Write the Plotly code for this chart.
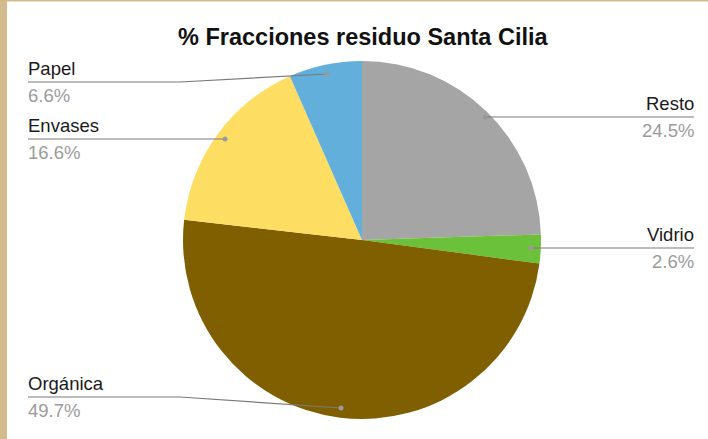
import plotly.graph_objects as go

W, H = 708, 439

labels = ["Resto", "Vidrio", "Orgánica", "Envases", "Papel"]
values = [24.5, 2.6, 49.7, 16.6, 6.6]
colors = ["#a5a5a5", "#6cc13b", "#7f5f00", "#fedd63", "#63afdc"]
pct_text = ["24.5%", "2.6%", "49.7%", "16.6%", "6.6%"]

def px(x):
    return x / W

def py(y):
    return 1 - y / H

cx, cy, r = 362, 240, 179

fig = go.Figure()
fig.add_trace(go.Pie(
    labels=labels, values=values, sort=False, direction="clockwise", rotation=0,
    marker=dict(colors=colors, line=dict(width=0)),
    textinfo="none", hoverinfo="label+percent", showlegend=False,
    domain=dict(x=[px(cx - r), px(cx + r)], y=[py(cy + r), py(cy - r)]),
))

label_layout = {
    "Papel": ("left", 82, [(28, 82), (180, 82), (327, 74)]),
    "Envases": ("left", 139, [(28, 139), (225, 139)]),
    "Orgánica": ("left", 397, [(28, 397), (180, 397), (341, 408)]),
    "Resto": ("right", 117, [(694, 117), (485, 117)]),
    "Vidrio": ("right", 248, [(694, 248), (531, 248)]),
}

shapes = [dict(type="rect", xref="paper", yref="paper", x0=px(7), x1=1, y0=0, y1=py(1.5),
               fillcolor="white", line=dict(width=0), layer="below")]
annotations = []
for name, pct in zip(labels, pct_text):
    side, ly, pts = label_layout[name]
    path = "M " + " L ".join(f"{px(x)},{py(y)}" for x, y in pts)
    shapes.append(dict(type="path", xref="paper", yref="paper", path=path,
                       line=dict(color="#7a7a7a", width=1.2)))
    dx, dy = pts[-1]
    shapes.append(dict(type="circle", xref="paper", yref="paper",
                       x0=px(dx - 2.5), x1=px(dx + 2.5), y0=py(dy + 2.5), y1=py(dy - 2.5),
                       fillcolor="#9a9a9a", line=dict(width=0)))
    ax = pts[0][0]
    xa = "left" if side == "left" else "right"
    annotations.append(dict(x=px(ax), y=py(ly - 1), xref="paper", yref="paper", text=name,
                            showarrow=False, xanchor=xa, yanchor="bottom",
                            font=dict(size=18.5, color="#1a1a1a", family="Liberation Sans, Arial"),
                            xshift=-2 if side == "left" else 2))
    annotations.append(dict(x=px(ax), y=py(ly + 1), xref="paper", yref="paper", text=pct,
                            showarrow=False, xanchor=xa, yanchor="top",
                            font=dict(size=18.5, color="#9b9b9b", family="Liberation Sans, Arial"),
                            xshift=-2 if side == "left" else 2))

annotations.append(dict(x=px(363), y=py(37), xref="paper", yref="paper",
                        text="<b>% Fracciones residuo Santa Cilia</b>", showarrow=False,
                        xanchor="center", yanchor="middle",
                        font=dict(size=23.5, color="#111111", family="Liberation Sans, Arial")))

fig.update_layout(
    width=W, height=H, margin=dict(l=0, r=0, t=0, b=0),
    paper_bgcolor="#d4bb8e", plot_bgcolor="white",
    shapes=shapes, annotations=annotations,
)

fig.write_html("out.html", config={"displayModeBar": False},
               post_script="document.body.style.margin='0';document.body.style.overflow='hidden';")
